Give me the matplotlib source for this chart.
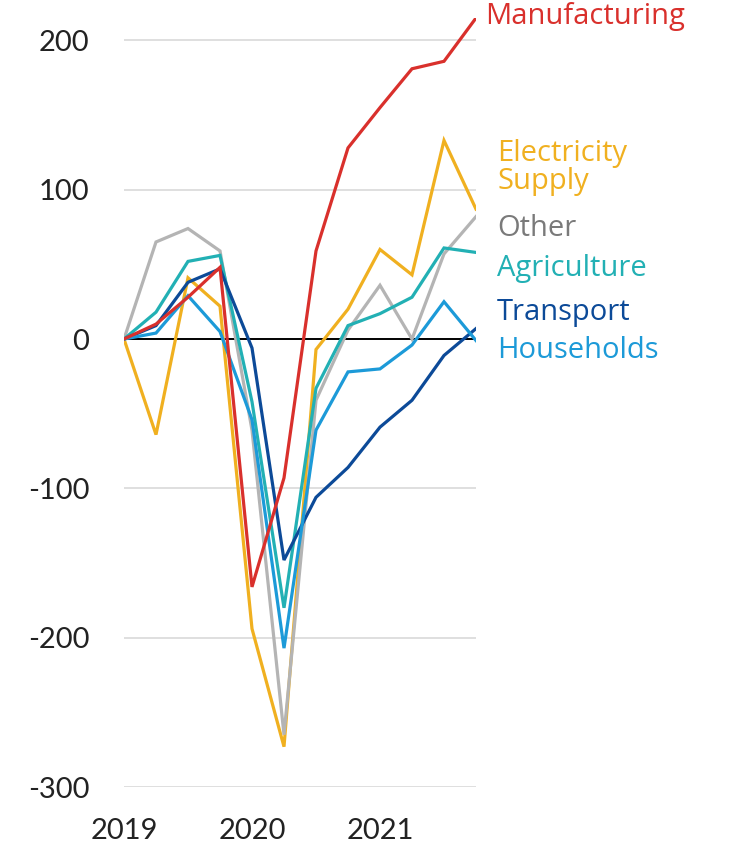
import numpy as np
import matplotlib.pyplot as plt

# ............................................
# DATA (quarterly, 2019 Q1 .. 2021 Q4)
# ............................................
quarters = [2019.0, 2019.25, 2019.5, 2019.75,
            2020.0, 2020.25, 2020.5, 2020.75,
            2021.0, 2021.25, 2021.5, 2021.75]

manufacturing = [0, 10, 28, 48, -166, -93, 59, 128, 155, 181, 186, 215]
electricity = [0, -64, 41, 22, -194, -273, -7, 20, 60, 43, 133, 87]
other = [0, 65, 74, 59, -61, -265, -41, 6, 36, 0, 57, 82]
agriculture = [0, 18, 52, 56, -42, -180, -33, 9, 17, 28, 61, 58]
transport = [0, 9, 38, 47, -6, -148, -106, -86, -59, -41, -11, 7]
households = [0, 4, 29, 5, -54, -207, -61, -22, -20, -4, 25, -1]

series_names = ["Electricity\nSupply", "Other", "Agriculture",
                "Transport", "Households", "Manufacturing"]
series_values = [electricity, other, agriculture,
                 transport, households, manufacturing]
line_colors = ["#f0b020", "#b4b4b4", "#22b0b4",
               "#0c4a98", "#1c9ad8", "#d9302c"]
text_colors = ["#f0b020", "#7a7a7a", "#22b0b4",
               "#0c4a98", "#1c9ad8", "#d9302c"]
label_y = [115, 74, 47, 18, -8, 216]

year_ticks = [2019, 2020, 2021]
value_ticks = [-300, -200, -100, 0, 100, 200]

# ............................................
# FIGURE
# ............................................
plt.rcParams["font.family"] = ["Open Sans", "DejaVu Sans"]

fig = plt.figure(figsize=(7.4, 8.51), dpi=100)
ax = fig.add_axes([124 / 740, 1 - 787 / 851, 352 / 740, (787 - 18) / 851])

for vals, col in zip(series_values, line_colors):
    ax.plot(quarters, vals, color=col, lw=2.3, solid_joinstyle="miter",
            zorder=3)

ax.axhline(0, color="black", lw=1.4, zorder=2)

ax.set_xlim(2019, 2021.75)
ax.set_ylim(-300, 215)

ax.set_yticks(value_ticks)
ax.set_yticklabels([str(v) for v in value_ticks])
ax.set_xticks(year_ticks)
ax.set_xticklabels([str(y) for y in year_ticks])

ax.grid(axis="y", color="#dcdcdc", lw=1.3, zorder=1)
ax.grid(axis="x", visible=False)
for s in ax.spines.values():
    s.set_visible(False)

ax.tick_params(axis="y", length=0, pad=25, labelsize=21, labelcolor="#222222")
ax.tick_params(axis="x", length=0, pad=22, labelsize=21, labelcolor="#222222")
for lab in ax.get_xticklabels() + ax.get_yticklabels():
    lab.set_family(["Lato", "DejaVu Sans"])

# direct labels on the right
for name, ly, col in zip(series_names, label_y, text_colors):
    lx = 2021.82 if name == "Manufacturing" else 2021.915
    ax.text(lx, ly, name, color=col, fontsize=21, ha="left", va="center",
            linespacing=0.98, clip_on=False)

fig.savefig("out.png", dpi=100)
plt.close(fig)
